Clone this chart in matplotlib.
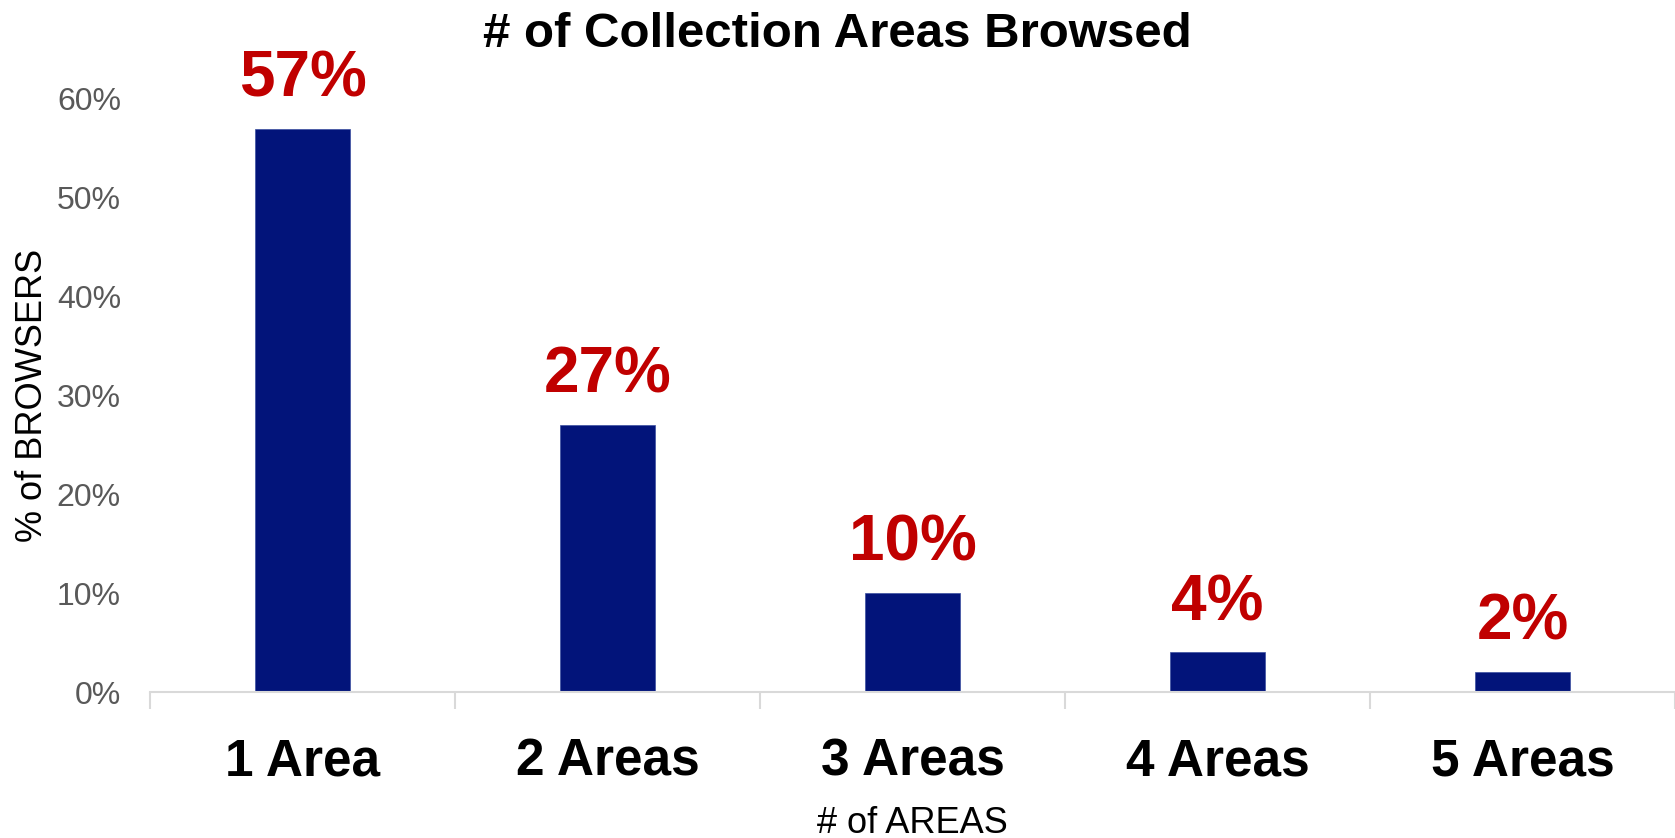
import matplotlib.pyplot as plt
from matplotlib.ticker import PercentFormatter

# survey results: share of browsers by number of collection areas visited
categories = ['1 Area', '2 Areas', '3 Areas', '4 Areas', '5 Areas']
share_pct = [57, 27, 10, 4, 2]
value_labels = ['57%', '27%', '10%', '4%', '2%']
y_ticks = [0, 10, 20, 30, 40, 50, 60]

plt.rcParams['font.family'] = ['Liberation Sans', 'DejaVu Sans']

fig = plt.figure(figsize=(16.75, 8.38), dpi=100)
ax = fig.add_axes([0.0896, 0.1742, 0.9104, 0.7077])

x = list(range(len(categories)))
bars = ax.bar(x, share_pct, width=0.31, color='#02147A', edgecolor='#3a4fa0', linewidth=0.5)

for rect, label in zip(bars, value_labels):
    ax.annotate(label, (rect.get_x() + rect.get_width() / 2, rect.get_height()),
                xytext=(0, 14), textcoords='offset points', ha='center', va='bottom',
                fontsize=46, fontweight='bold', color='#C00000', annotation_clip=False)

ax.set_xlim(-0.5, len(categories) - 0.5)
ax.set_ylim(0, 60)
ax.set_yticks(y_ticks)
ax.yaxis.set_major_formatter(PercentFormatter(decimals=0))
ax.tick_params(axis='y', length=0, pad=21, labelsize=23, labelcolor='#595959')

ax.set_xticks(x)
ax.set_xticklabels(categories, fontsize=37, fontweight='bold')
ax.tick_params(axis='x', which='major', length=0, pad=33)
ax.set_xticks([i - 0.5 for i in range(len(categories) + 1)], minor=True)
ax.tick_params(axis='x', which='minor', length=12, width=1.5, color='#D9D9D9')

for side in ['top', 'right', 'left']:
    ax.spines[side].set_visible(False)
ax.spines['bottom'].set_color('#D9D9D9')
ax.spines['bottom'].set_linewidth(1.5)

ax.set_xlabel('# of AREAS', fontsize=26, labelpad=14)
ax.set_ylabel('% of BROWSERS', fontsize=26, labelpad=5)
fig.suptitle('# of Collection Areas Browsed', fontsize=35.5, fontweight='bold', y=0.986)

fig.savefig('out.png', dpi=100)
